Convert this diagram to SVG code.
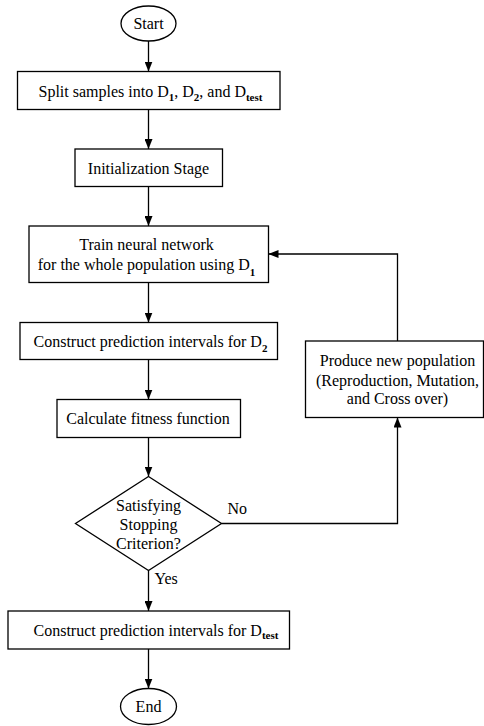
<svg xmlns="http://www.w3.org/2000/svg" width="484" height="726" viewBox="0 0 484 726" font-family="'Liberation Serif', 'DejaVu Serif', 'Times New Roman', Times, serif">
  <style>
    .shape { fill: #ffffff; stroke: #000000; stroke-width: 1.3; }
    .edge { fill: none; stroke: #000000; stroke-width: 1.3; }
    text { font-family: 'Liberation Serif', 'DejaVu Serif', 'Times New Roman', Times, serif; font-size: 16px; fill: #000000; }
    .mid { text-anchor: middle; }
    .sub { font-size: 11px; font-weight: bold; }
  </style>
  <defs>
    <marker id="arrow" viewBox="0 0 10 8" refX="10" refY="4" markerWidth="10" markerHeight="8" markerUnits="userSpaceOnUse" orient="auto">
      <path d="M0,0 L10,4 L0,8 Z" fill="#000000"/>
    </marker>
  </defs>

  <rect width="484" height="726" fill="#ffffff"/>

  <g id="connectors">
    <line class="edge" x1="148.5" y1="41" x2="148.5" y2="71.5" marker-end="url(#arrow)"/>
    <line class="edge" x1="148.5" y1="109.5" x2="148.5" y2="149" marker-end="url(#arrow)"/>
    <line class="edge" x1="148.5" y1="186.5" x2="148.5" y2="226" marker-end="url(#arrow)"/>
    <line class="edge" x1="148.5" y1="282.5" x2="148.5" y2="322.5" marker-end="url(#arrow)"/>
    <line class="edge" x1="148.5" y1="359.5" x2="148.5" y2="399.5" marker-end="url(#arrow)"/>
    <line class="edge" x1="148.5" y1="437.5" x2="148.5" y2="476.5" marker-end="url(#arrow)"/>
    <line class="edge" x1="148.5" y1="570.5" x2="148.5" y2="611" marker-end="url(#arrow)"/>
    <line class="edge" x1="148.5" y1="649" x2="148.5" y2="688.5" marker-end="url(#arrow)"/>
    <!-- "No" branch back up to the reproduction step -->
    <polyline class="edge" points="221.5,523.5 397.5,523.5 397.5,417.5" marker-end="url(#arrow)"/>
    <!-- new population feeds the training step -->
    <polyline class="edge" points="397.5,341 397.5,254 268.5,254" marker-end="url(#arrow)"/>
    <text x="227.5" y="513.5">No</text>
    <text x="154.5" y="583.5">Yes</text>
  </g>

  <g id="start">
    <ellipse class="shape" cx="148.5" cy="23.5" rx="27.5" ry="17.5"/>
    <text class="mid" x="148.5" y="29">Start</text>
  </g>

  <g id="split">
    <rect class="shape" x="17.5" y="71.5" width="262.5" height="38"/>
    <text x="38.5" y="96.5">Split samples into D<tspan class="sub" dy="4">1</tspan><tspan dy="-4">, D</tspan><tspan class="sub" dy="4">2</tspan><tspan dy="-4">,  and D</tspan><tspan class="sub" dy="4">test</tspan></text>
  </g>

  <g id="init">
    <rect class="shape" x="75" y="149" width="147.5" height="37.5"/>
    <text class="mid" x="148.5" y="173.5">Initialization Stage</text>
  </g>

  <g id="train">
    <rect class="shape" x="29" y="226" width="239.5" height="56.5"/>
    <text class="mid" x="146.5" y="249.5">Train neural network</text>
    <text class="mid" x="146.5" y="269.5">for the whole population using D<tspan class="sub" dy="6">1</tspan></text>
  </g>

  <g id="intervals-d2">
    <rect class="shape" x="20" y="322.5" width="257.5" height="37"/>
    <text x="33.5" y="346.5">Construct prediction intervals for D<tspan class="sub" dy="5">2</tspan></text>
  </g>

  <g id="fitness">
    <rect class="shape" x="57" y="399.5" width="183.5" height="38"/>
    <text class="mid" x="148" y="423.5">Calculate fitness function</text>
  </g>

  <g id="stopping">
    <polygon class="shape" points="148.5,476.5 221.5,523.5 148.5,570.5 75.5,523.5"/>
    <text class="mid" x="148.5" y="511">Satisfying</text>
    <text class="mid" x="148.5" y="530">Stopping</text>
    <text class="mid" x="148.5" y="548.5">Criterion?</text>
  </g>

  <g id="new-population">
    <rect class="shape" x="305.5" y="341" width="178" height="76.5"/>
    <text class="mid" x="397.5" y="366">Produce new population</text>
    <text class="mid" x="397.5" y="385.5">(Reproduction, Mutation,</text>
    <text class="mid" x="397.5" y="404">and Cross over)</text>
  </g>

  <g id="intervals-test">
    <rect class="shape" x="8" y="611" width="281.5" height="38"/>
    <text x="33.5" y="636">Construct prediction intervals for D<tspan class="sub" dy="3">test</tspan></text>
  </g>

  <g id="end">
    <ellipse class="shape" cx="148.5" cy="706.5" rx="28" ry="18"/>
    <text class="mid" x="148.5" y="712">End</text>
  </g>
</svg>
